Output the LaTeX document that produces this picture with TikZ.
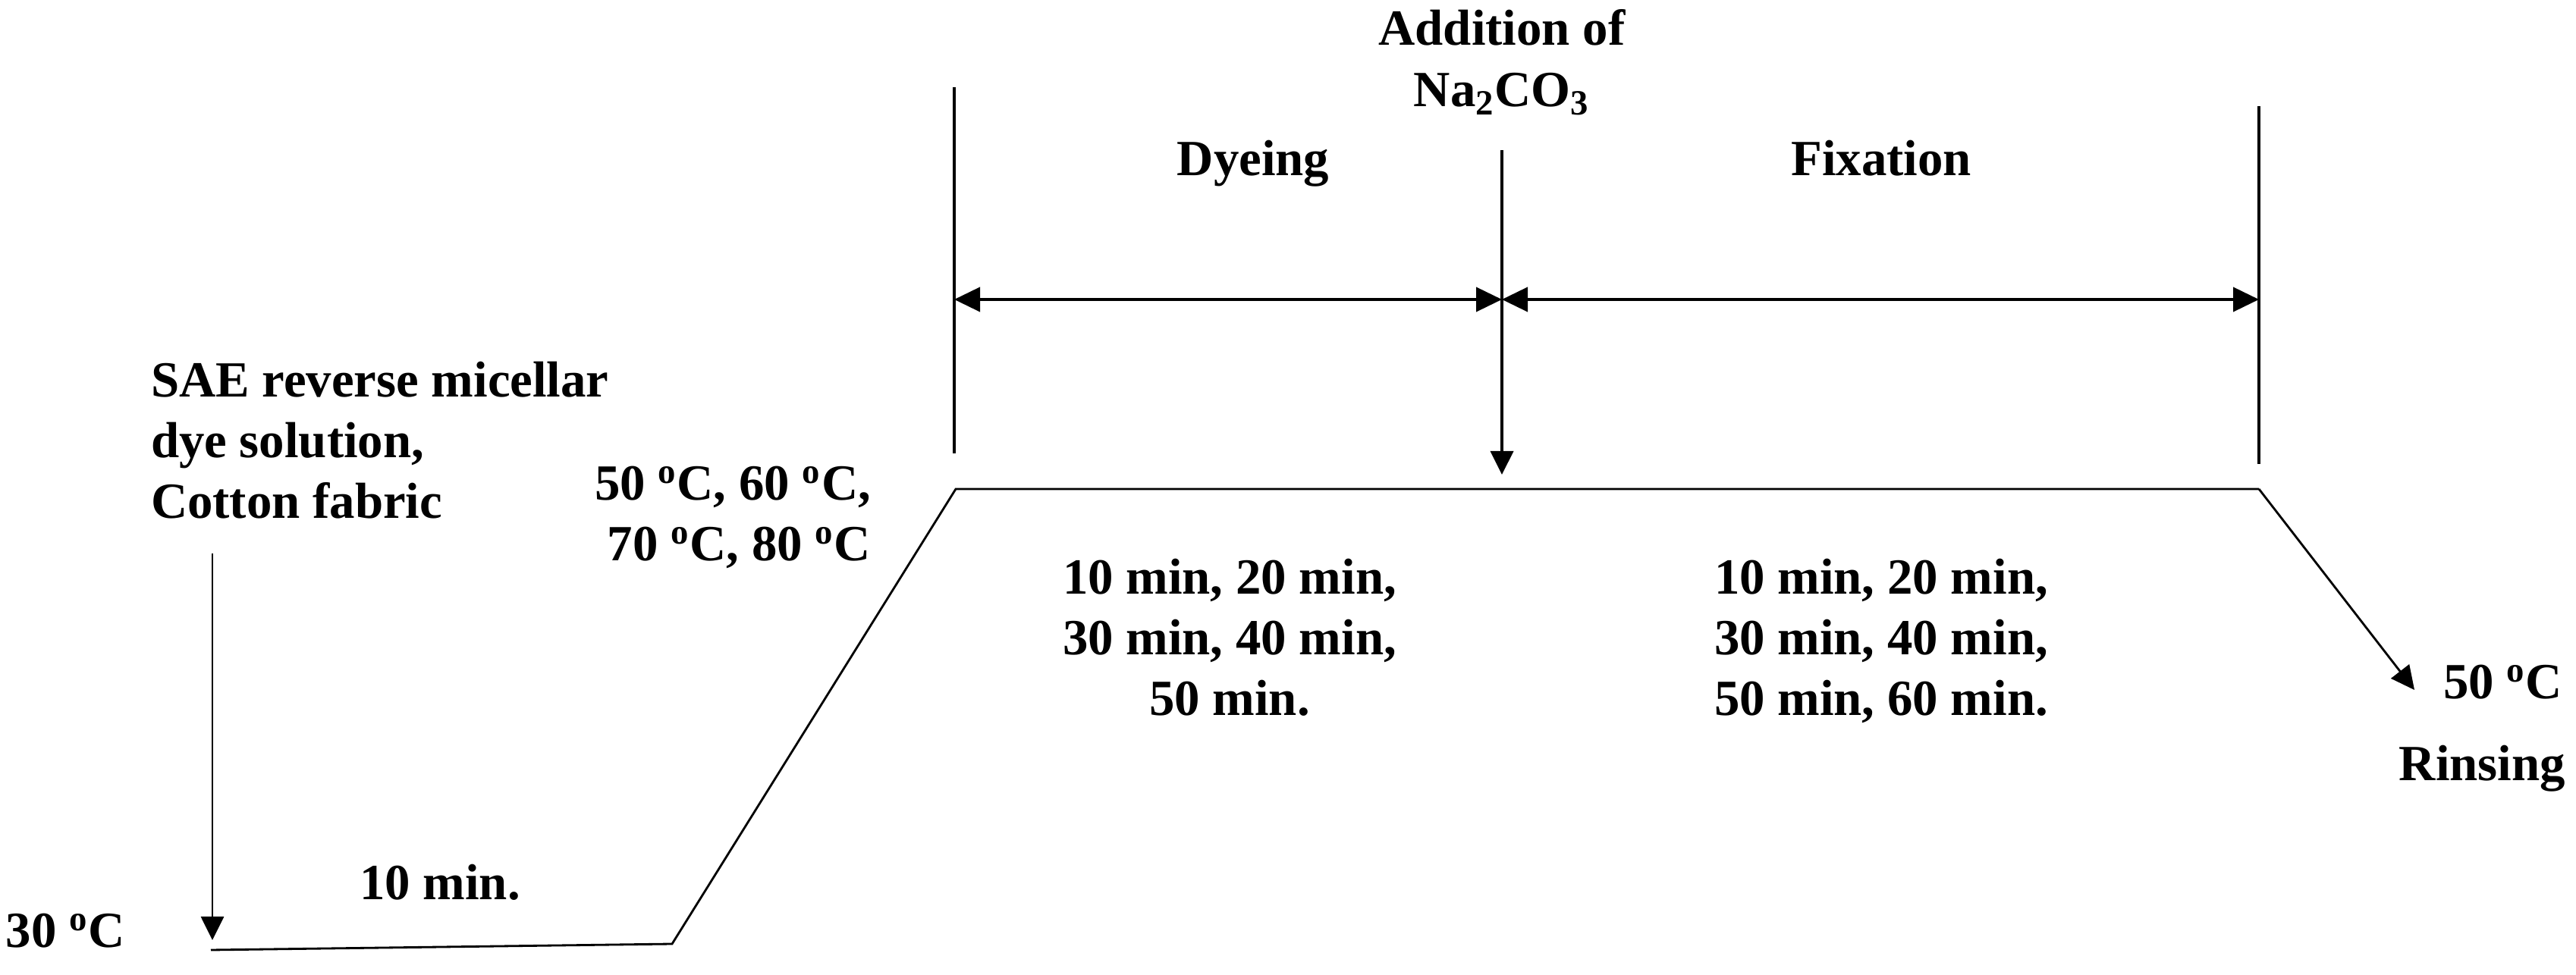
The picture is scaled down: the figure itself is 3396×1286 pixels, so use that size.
\documentclass[tikz,border=0pt]{standalone}
\usepackage{fontspec}
\setmainfont{Liberation Serif}
\usetikzlibrary{arrows.meta}
\begin{document}
\begin{tikzpicture}[x=0.01cm,y=-0.01cm,
  lbl/.style={font=\fontsize{19}{22.7}\selectfont\bfseries, inner sep=0pt, outer sep=0pt},
  profile/.style={line width=0.8pt},
  tickline/.style={line width=1.1pt},
  arr/.style={-{Triangle[length=0.31cm,width=0.3cm]}},
  dbl/.style={line width=1.1pt,{Triangle[length=0.34cm,width=0.32cm]}-{Triangle[length=0.34cm,width=0.32cm]}}]
\useasboundingbox (0,0) rectangle (3396,1286);
% temperature profile
\coordinate (s0) at (278,1253);
\coordinate (s1) at (886,1245);
\coordinate (s2) at (1260,645);
\coordinate (s3) at (2978,645);
\coordinate (s4) at (3183,910);
\draw[profile] (s0) -- (s1) -- (s2) -- (s3);
\draw[profile, arr] (s3) -- (s4);
% vertical markers
\coordinate (vl1) at (1258,115);
\coordinate (vl2) at (1258,598);
\coordinate (vr1) at (2978,140);
\coordinate (vr2) at (2978,612);
\draw[tickline] (vl1) -- (vl2);
\draw[tickline] (vr1) -- (vr2);
% Na2CO3 addition arrow
\coordinate (na1) at (1980,198);
\coordinate (na2) at (1980,626);
\draw[tickline, arr] (na1) -- (na2);
% dimension arrows
\coordinate (dl) at (1258,395);
\coordinate (dm) at (1980,395);
\coordinate (dr) at (2978,395);
\draw[dbl] (dl) -- (dm);
\draw[dbl] (dm) -- (dr);
% initial arrow
\coordinate (ld1) at (280,730);
\coordinate (ld2) at (280,1240);
\draw[profile, arr] (ld1) -- (ld2);
% texts
\node[lbl, anchor=base] (add) at (1980,60) {Addition of};
\node[lbl, anchor=base] (na) at (1980,141) {Na\textsubscript{2}CO\textsubscript{3}};
\node[lbl, anchor=base] (dye) at (1652,232) {Dyeing};
\node[lbl, anchor=base] (fix) at (2480,232) {Fixation};
\node[lbl, anchor=north west, align=left] (sae) at (199,477) {SAE reverse micellar\\dye solution,\\Cotton fabric};
\node[lbl, anchor=north east, align=right] (temps) at (1148,615) {50 \textsuperscript{o}C, 60 \textsuperscript{o}C,\\70 \textsuperscript{o}C, 80 \textsuperscript{o}C};
\node[lbl, anchor=north, align=center] (dtimes) at (1621,737) {10 min, 20 min,\\30 min, 40 min,\\50 min.};
\node[lbl, anchor=north, align=center] (ftimes) at (2480,737) {10 min, 20 min,\\30 min, 40 min,\\50 min, 60 min.};
\node[lbl, anchor=base east] (rt) at (3378,922) {50 \textsuperscript{o}C};
\node[lbl, anchor=base east] (rins) at (3382,1030) {Rinsing};
\node[lbl, anchor=base] (ten) at (580,1186) {10 min.};
\node[lbl, anchor=base west] (t30) at (8,1250) {30 \textsuperscript{o}C};
\end{tikzpicture}
\end{document}
